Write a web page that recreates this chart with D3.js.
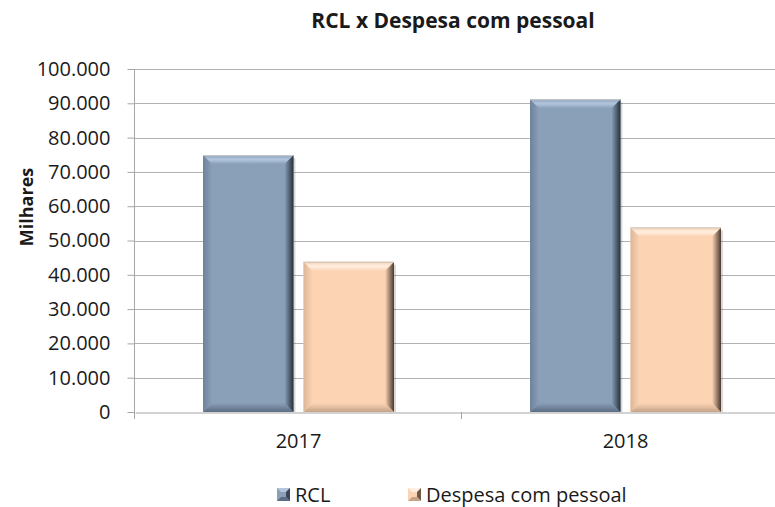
<!DOCTYPE html>
<html><head><meta charset="utf-8">
<script src="https://cdn.jsdelivr.net/npm/d3@7"></script>
<style>body{margin:0;background:#fff}svg{display:block}text{font-family:"Open Sans",sans-serif;fill:#1a1a1a}</style>
</head><body><svg id="c" width="775" height="507"></svg>
<script>
const categories = ["2017", "2018"];
const seriesNames = ["RCL", "Despesa com pessoal"];
const rclValues = [74900, 91200];
const despesaValues = [43800, 53800];
const yTicks = [0, 10000, 20000, 30000, 40000, 50000, 60000, 70000, 80000, 90000, 100000];

(function () {
const face = {"RCL": "#8a9fb8", "Despesa com pessoal": "#fcd4b4"};
const topC = {"RCL": ["#8fa3bb", "#b3c6dd", "#8a9fb8"], "Despesa com pessoal": ["#f6cfae", "#fff0e2", "#fcd4b4"]};
const leftC = {"RCL": ["#6e8299", "#8a9fb8"], "Despesa com pessoal": ["#dcb698", "#fcd4b4"]};
const rightC = {"RCL": ["#8a9fb8", "#26303b"], "Despesa com pessoal": ["#fcd4b4", "#4a3a30"]};
const botC = {"RCL": ["#8a9fb8", "#5c6d83"], "Despesa com pessoal": ["#fcd4b4", "#c6a487"]};

const svg = d3.select("#c");
const pL = 135, pR = 789, pT = 69, pB = 412;
const x0 = d3.scaleBand().domain(categories).range([pL, pR]).paddingInner(0).paddingOuter(0);
const x1 = d3.scaleBand().domain(seriesNames).range([68, 259]).paddingInner(0.1).paddingOuter(0);
const y = d3.scaleLinear().domain([0, 100000]).range([pB, pT]);
const fmt = d => d3.format(",")(d).replace(/,/g, ".");

// gridlines
svg.append("g").selectAll("line").data(yTicks.slice(1)).join("line")
  .attr("x1", pL).attr("x2", pR).attr("y1", d => Math.round(y(d)) + 0.5).attr("y2", d => Math.round(y(d)) + 0.5)
  .attr("stroke", "#b3b3b3").attr("stroke-width", 1.2);

// y axis
const yAxis = svg.append("g").attr("transform", `translate(${pL - 0.5},0)`)
  .call(d3.axisLeft(y).tickValues(yTicks).tickFormat(fmt).tickSize(7).tickSizeOuter(0));
yAxis.select(".domain").attr("stroke", "#a6a6a6").attr("d", `M0,${pT}V${pB + 7}`);
yAxis.selectAll(".tick line").attr("stroke", "#a6a6a6");
yAxis.selectAll(".tick text").attr("x", -24).style("font-size", "20px").style("font-family", "'Open Sans',sans-serif").attr("fill", "#1a1a1a");

// x axis
const xAxis = svg.append("g").attr("transform", `translate(0,${pB + 0.5})`)
  .call(d3.axisBottom(x0).tickSize(0).tickSizeOuter(0));
xAxis.select(".domain").attr("stroke", "#a6a6a6").attr("stroke-width", 1.2);
xAxis.selectAll(".tick text").attr("y", 21).style("font-size", "20px").style("font-family", "'Open Sans',sans-serif").attr("fill", "#1a1a1a");
svg.append("g").selectAll("line").data(categories.slice(1)).join("line")
  .attr("x1", d => x0(d) - 0.5).attr("x2", d => x0(d) - 0.5).attr("y1", pB).attr("y2", pB + 7)
  .attr("stroke", "#a6a6a6");

// gradients
const defs = svg.append("defs");
function grad(id, stops, vertical) {
  const g = defs.append("linearGradient").attr("id", id)
    .attr("x1", 0).attr("y1", 0).attr("x2", vertical ? 0 : 1).attr("y2", vertical ? 1 : 0);
  stops.forEach((c, i) => g.append("stop").attr("offset", (i / (stops.length - 1) * 100) + "%").attr("stop-color", c));
}
seriesNames.forEach((s, i) => {
  grad("t" + i, topC[s], true);
  grad("l" + i, leftC[s], false);
  grad("r" + i, rightC[s], false);
  grad("b" + i, botC[s], true);
});

// bars
const data = [];
categories.forEach((c, i) => {
  data.push({cat: c, s: "RCL", v: rclValues[i]});
  data.push({cat: c, s: "Despesa com pessoal", v: despesaValues[i]});
});
const bars = svg.append("g").selectAll("g").data(data).join("g");
const b = 9;
bars.each(function(d) {
  const g = d3.select(this);
  const x = x0(d.cat) + x1(d.s), w = x1.bandwidth();
  const yt = y(d.v), yb = y(0);
  const si = seriesNames.indexOf(d.s);
  g.append("rect").attr("x", x + 2).attr("y", yt + 3).attr("width", w).attr("height", yb - yt - 3)
    .attr("fill", "#000").attr("opacity", 0.15);
  g.append("rect").attr("x", x).attr("y", yt).attr("width", w).attr("height", yb - yt).attr("fill", face[d.s]);
  g.append("polygon").attr("points", `${x},${yb} ${x + w},${yb} ${x + w - b},${yb - b} ${x + b},${yb - b}`)
    .attr("fill", `url(#b${si})`);
  g.append("polygon").attr("points", `${x},${yt} ${x + b},${yt + b} ${x + b},${yb - b} ${x},${yb}`)
    .attr("fill", `url(#l${si})`);
  g.append("polygon").attr("points", `${x + w},${yt} ${x + w},${yb} ${x + w - b},${yb - b} ${x + w - b},${yt + b}`)
    .attr("fill", `url(#r${si})`);
  g.append("polygon").attr("points", `${x},${yt} ${x + w},${yt} ${x + w - b},${yt + b} ${x + b},${yt + b}`)
    .attr("fill", `url(#t${si})`);
  g.append("line").attr("x1", x).attr("x2", x + w).attr("y1", yt + 0.5).attr("y2", yt + 0.5)
    .attr("stroke", "#c8c8c8").attr("stroke-width", 1);
});

// title
svg.append("text").attr("x", 453).attr("y", 28).attr("text-anchor", "middle")
  .style("font-size", "21px").style("font-weight", "bold").text("RCL x Despesa com pessoal");
// y title
svg.append("text").attr("transform", "translate(33,207) rotate(-90)").attr("text-anchor", "middle")
  .style("font-size", "18px").style("font-weight", "bold").text("Milhares");

// legend
const legX = [277, 408];
const leg = svg.append("g").selectAll("g").data(seriesNames).join("g")
  .attr("transform", (d, i) => `translate(${legX[i]},488)`);
leg.append("rect").attr("width", 13).attr("height", 13).attr("fill", d => face[d]);
leg.append("polygon").attr("points", "0,0 13,0 9,4 4,4").attr("fill", (d, i) => topC[d][1]);
leg.append("polygon").attr("points", "13,0 13,13 9,9 9,4").attr("fill", (d, i) => rightC[d][1]).attr("opacity", 0.8);
leg.append("polygon").attr("points", "0,13 13,13 9,9 4,9").attr("fill", (d, i) => botC[d][1]);
leg.append("text").attr("x", 18).attr("y", 14).style("font-size", "20px").text(d => d);
})();
</script></body></html>
